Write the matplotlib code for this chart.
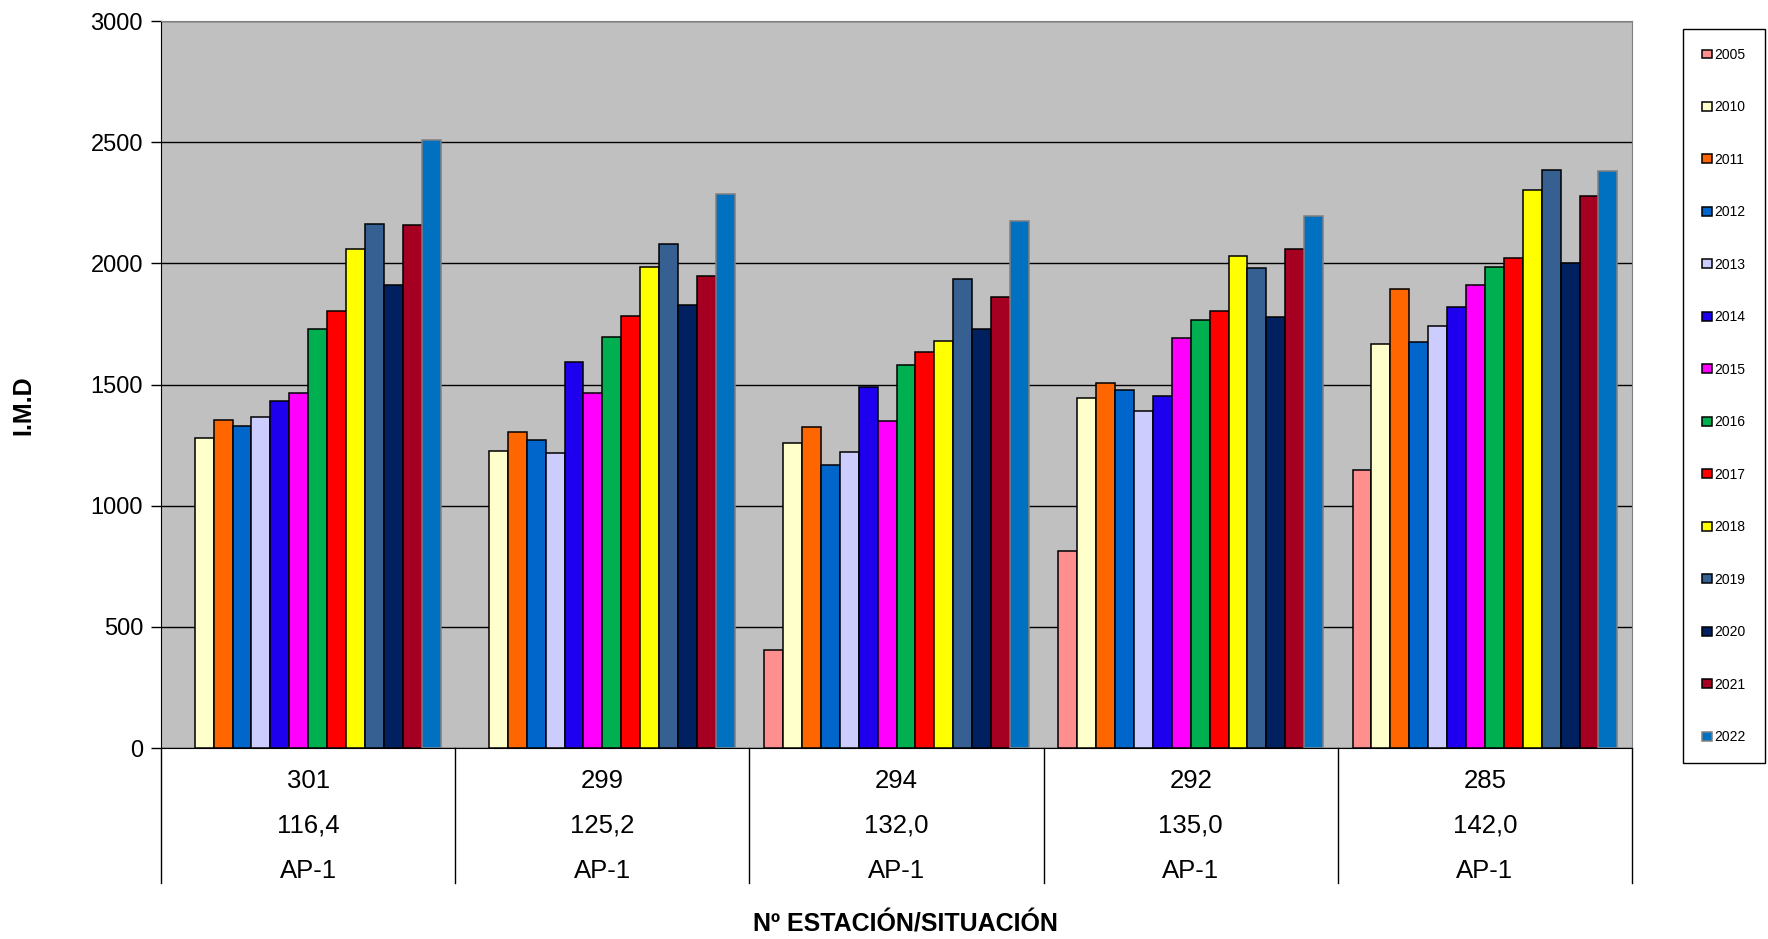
import numpy as np
import matplotlib
matplotlib.use("Agg")
import matplotlib.pyplot as plt
from matplotlib.transforms import blended_transform_factory

#  data
estaciones = ["301", "299", "294", "292", "285"]
pk = ["116,4", "125,2", "132,0", "135,0", "142,0"]
vias = ["AP-1", "AP-1", "AP-1", "AP-1", "AP-1"]
years = ["2005", "2010", "2011", "2012", "2013", "2014", "2015",
         "2016", "2017", "2018", "2019", "2020", "2021", "2022"]

imd_2005 = [np.nan, np.nan, 403, 811, 1149]
imd_2010 = [1280, 1225, 1259, 1444, 1669]
imd_2011 = [1353, 1305, 1323, 1505, 1893]
imd_2012 = [1329, 1271, 1167, 1478, 1676]
imd_2013 = [1368, 1216, 1221, 1391, 1740]
imd_2014 = [1434, 1593, 1490, 1453, 1821]
imd_2015 = [1463, 1465, 1350, 1690, 1910]
imd_2016 = [1728, 1695, 1580, 1768, 1985]
imd_2017 = [1802, 1781, 1636, 1802, 2023]
imd_2018 = [2059, 1986, 1678, 2032, 2302]
imd_2019 = [2162, 2081, 1937, 1982, 2386]
imd_2020 = [1912, 1827, 1729, 1777, 2001]
imd_2021 = [2159, 1949, 1860, 2060, 2278]
imd_2022 = [2508, 2288, 2176, 2195, 2381]

series = [imd_2005, imd_2010, imd_2011, imd_2012, imd_2013, imd_2014, imd_2015,
          imd_2016, imd_2017, imd_2018, imd_2019, imd_2020, imd_2021, imd_2022]

colors = ["#FF8F8F", "#FFFFCC", "#FF6600", "#0066CC", "#CCCCFF", "#1F00EE", "#FF00FF",
          "#00B050", "#FF0000", "#FFFF00", "#366092", "#002060", "#A50021", "#0070C0"]

plt.rcParams["font.family"] = ["Liberation Sans", "DejaVu Sans"]

fig = plt.figure(figsize=(17.68, 9.39), dpi=100)
ax = fig.add_axes([0.0911, 0.2034, 0.8320, 0.7742])
ax.set_facecolor("#C0C0C0")

#  bars
n = len(series)
group_w = 0.9
bar_w = group_w / n
x = np.arange(len(estaciones))
for j in range(n):
    pos = x - group_w / 2 + (j + 0.5) * bar_w
    edge = "#808080" if j == n - 1 else "black"
    ax.bar(pos, series[j], width=bar_w, color=colors[j], edgecolor=edge,
           linewidth=1.1, label=years[j], zorder=3)

#  axes settings
ax.set_xlim(-0.5, len(estaciones) - 0.5)
ax.set_ylim(0, 3000)
ax.set_yticks(np.arange(0, 3001, 500))
ax.yaxis.grid(True, color="black", linewidth=1.0, zorder=1)
ax.set_axisbelow(True)
ax.tick_params(axis="y", labelsize=17, length=7, width=1, direction="out", pad=6)
ax.set_xticks([])
for side in ["top", "right"]:
    ax.spines[side].set_color("#808080")
ax.spines["left"].set_color("black")
ax.spines["bottom"].set_color("black")

#  table of categories below the axis
trans = blended_transform_factory(ax.transData, ax.transAxes)
row_y = [-0.045, -0.107, -0.169]
for i in range(len(estaciones)):
    ax.text(x[i], row_y[0], estaciones[i], transform=trans, ha="center", va="center", fontsize=18.5)
    ax.text(x[i], row_y[1], pk[i], transform=trans, ha="center", va="center", fontsize=18.5)
    ax.text(x[i], row_y[2], vias[i], transform=trans, ha="center", va="center", fontsize=18.5)
for b in np.arange(-0.5, len(estaciones), 1.0):
    ax.plot([b, b], [0, -0.186], transform=trans, color="black", linewidth=1.0, clip_on=False)

#  labels
fig.text(0.0135, 0.568, "I.M.D", rotation=90, ha="center", va="center",
         fontsize=18, fontweight="bold",
         family=["Liberation Sans Narrow", "Liberation Sans", "DejaVu Sans"])
fig.text(0.512, 0.0153, "Nº ESTACIÓN/SITUACIÓN", ha="center", va="center",
         fontsize=18, fontweight="bold")

#  legend
leg = fig.legend(loc="upper left", bbox_to_anchor=(0.952, 0.969), fontsize=10,
                 frameon=True, fancybox=False, edgecolor="black", framealpha=1,
                 labelspacing=2.77, handlelength=0.7, handleheight=0.6,
                 handletextpad=0.2, borderpad=1.35, borderaxespad=0)
leg.get_frame().set_linewidth(1.0)

plt.savefig("out.png", dpi=100)
